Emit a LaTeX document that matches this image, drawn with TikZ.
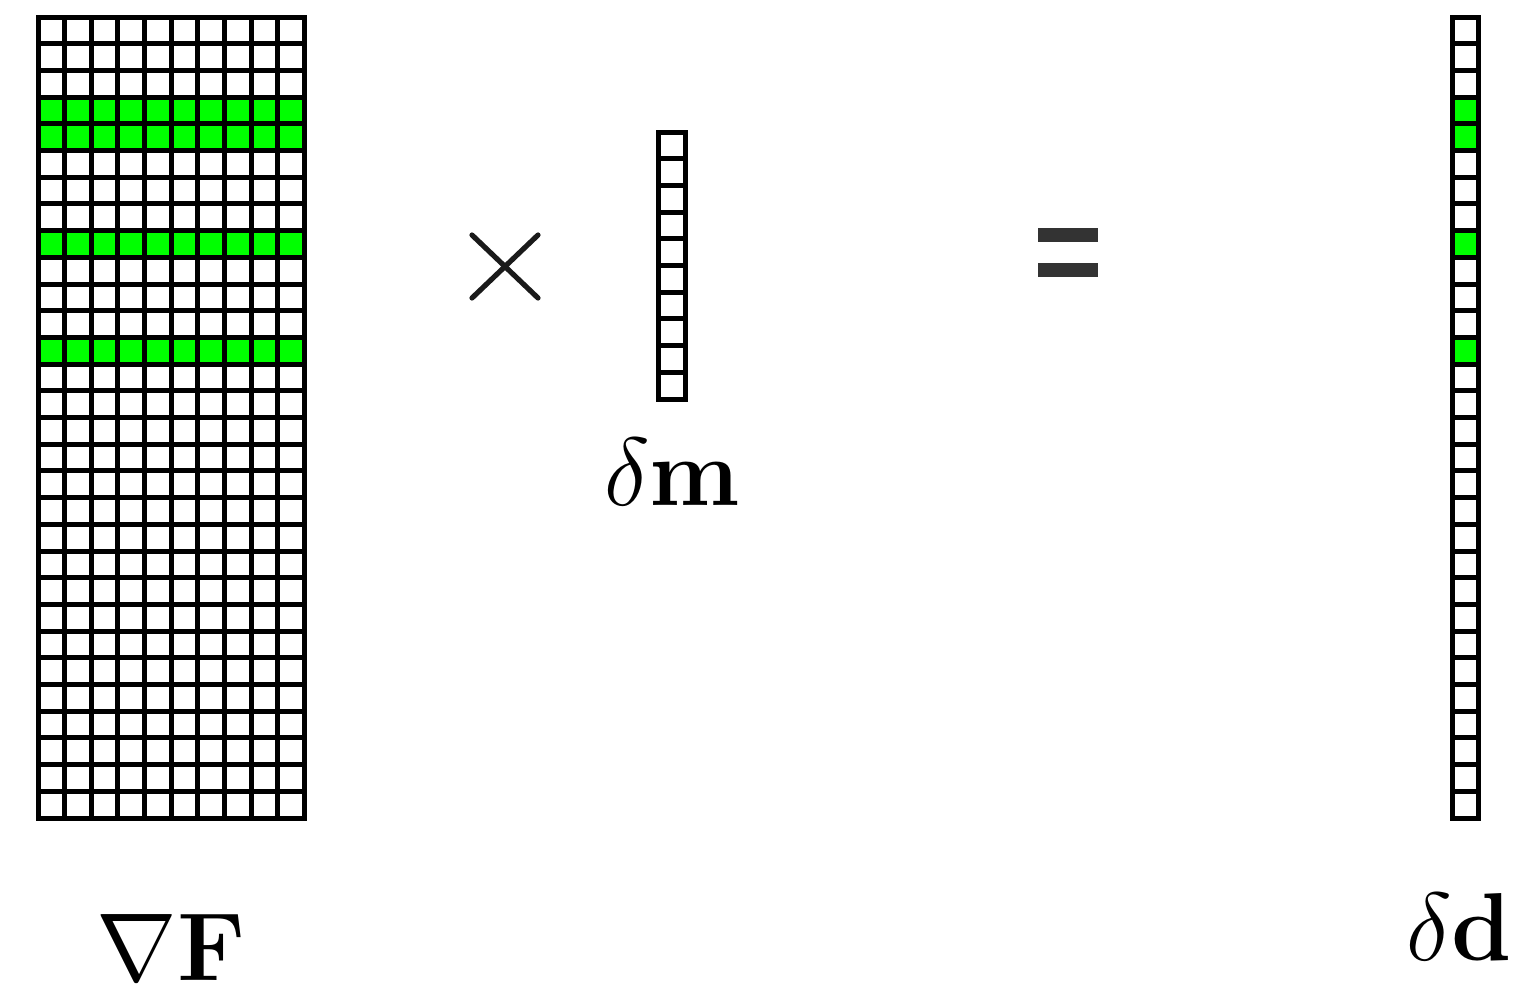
\documentclass[tikz,border=0pt]{standalone}
\usepackage{amsmath}
\usepackage{graphicx}
\definecolor{hl}{HTML}{00FF00}
\definecolor{opgray}{HTML}{1A1A1A}
\definecolor{eqgray}{HTML}{333333}
\newcommand{\biglbl}[1]{\scalebox{1.94}{\Huge$#1$}}
\tikzset{
  gridline/.style={line width=2.5pt, draw=black, line cap=rect},
  cellfill/.style={fill=hl},
  lbl/.style={inner sep=0pt, anchor=base},
  opline/.style={line width=2.6pt, draw=opgray, line cap=round},
}
\begin{document}
\begin{tikzpicture}[x=0.5pt, y=-0.5pt]
\useasboundingbox (0,0) rectangle (1517,987);
\def\cw{26.65}
\def\ch{26.7}
% ---- matrix nabla F ----
\foreach \r in {4,5,9,13}{
  \fill[cellfill] (38,{17+(\r-1)*\ch}) rectangle (304.5,{17+\r*\ch});
}
\foreach \i in {0,...,10}{
  \draw[gridline] ({38+\i*\cw},17) -- ({38+\i*\cw},818);
}
\foreach \j in {0,...,30}{
  \draw[gridline] (38,{17+\j*\ch}) -- (304.5,{17+\j*\ch});
}
\node[lbl] (gradF) at (171,980) {\biglbl{\nabla\mathbf{F}}};
% ---- times ----
\draw[opline] (472,235) -- (538,298);
\draw[opline] (538,235) -- (472,298);
% ---- vector delta m ----
\draw[gridline] (658,132) -- (658,399);
\draw[gridline] (685,132) -- (685,399);
\foreach \j in {0,...,10}{
  \draw[gridline] (658,{132+\j*\ch}) -- (685,{132+\j*\ch});
}
\node[lbl] (dm) at (672,505) {\biglbl{\delta\mathbf{m}}};
% ---- equals ----
\fill[eqgray] (1038,228) rectangle (1098,242);
\fill[eqgray] (1038,263) rectangle (1098,277);
% ---- vector delta d ----
\foreach \r in {4,5,9,13}{
  \fill[cellfill] (1452,{17+(\r-1)*\ch}) rectangle (1478,{17+\r*\ch});
}
\draw[gridline] (1452,17) -- (1452,818);
\draw[gridline] (1478,17) -- (1478,818);
\foreach \j in {0,...,30}{
  \draw[gridline] (1452,{17+\j*\ch}) -- (1478,{17+\j*\ch});
}
\node[lbl] (dd) at (1459,960) {\biglbl{\delta\mathbf{d}}};
\end{tikzpicture}
\end{document}
